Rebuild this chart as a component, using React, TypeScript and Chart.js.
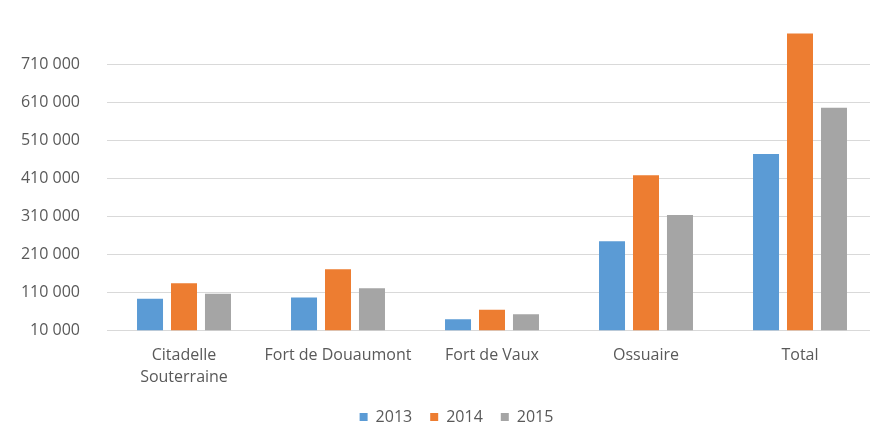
import React, { useEffect, useRef } from "react";
import { Chart, registerables } from "chart.js";

Chart.register(...registerables);

const categories: (string | string[])[] = [
  ["Citadelle", "Souterraine"],
  "Fort de Douaumont",
  "Fort de Vaux",
  "Ossuaire",
  "Total",
];
const values2013 = [93000, 96000, 39000, 245000, 475000];
const values2014 = [134000, 171000, 64000, 419000, 793000];
const values2015 = [106000, 121000, 52000, 314000, 597000];
const yTicks = [10000, 110000, 210000, 310000, 410000, 510000, 610000, 710000, 810000];
const shownTickMax = 710000;

const fmt = (v: number) =>
  String(v).replace(/\B(?=(\d{3})+(?!\d))/g, " ");

const legendShift = {
  id: "legendShift",
  afterLayout(chart: any) {
    if (chart.legend) chart.legend.left = 36;
  },
};

export default function App() {
  const ref = useRef<HTMLCanvasElement>(null);
  useEffect(() => {
    document.body.style.margin = "0";
    document.body.style.overflow = "hidden";
    const font = { family: "'Open Sans', sans-serif", size: 16 };
    const chart = new Chart(ref.current!, {
      type: "bar",
      data: {
        labels: categories,
        datasets: [
          { label: "2013", data: values2013, backgroundColor: "#5b9bd5" },
          { label: "2014", data: values2014, backgroundColor: "#ed7d31" },
          { label: "2015", data: values2015, backgroundColor: "#a5a5a5" },
        ],
      },
      plugins: [legendShift],
      options: {
        animation: false,
        responsive: false,
        maintainAspectRatio: false,
        layout: { padding: { top: 27, right: 35, left: 0, bottom: 2 } },
        datasets: {
          bar: { categoryPercentage: 0.662, barPercentage: 0.765 },
        },
        plugins: {
          tooltip: { enabled: false },
          legend: {
            position: "bottom",
            labels: {
              boxWidth: 8,
              boxHeight: 8,
              color: "#595959",
              font,
              padding: 18,
            },
          },
        },
        scales: {
          x: {
            grid: { display: false },
            border: { display: false },
            afterFit: (scale: any) => {
              scale.height = scale.height - 4;
            },
            ticks: { color: "#595959", font: { ...font, lineHeight: 1.4 }, padding: 6, maxRotation: 0, autoSkip: false },
          },
          y: {
            min: 10000,
            max: 810000,
            afterBuildTicks: (scale: any) => {
              scale.ticks = yTicks.map((v) => ({ value: v }));
            },
            afterFit: (scale: any) => {
              scale.width = 107;
            },
            border: { display: false },
            grid: {
              drawTicks: true,
              tickLength: 27,
              tickColor: "rgba(0,0,0,0)",
              color: (ctx: any) =>
                ctx.tick && ctx.tick.value > shownTickMax ? "rgba(0,0,0,0)" : "#d9d9d9",
              lineWidth: 1,
            },
            ticks: {
              color: "#595959",
              font,
              padding: 0,
              callback: (v: any) => (Number(v) > shownTickMax ? "" : fmt(Number(v))),
            },
          },
        },
      },
    });
    return () => chart.destroy();
  }, []);
  return (
    <div style={{ position: "relative", width: 870, height: 437, overflow: "hidden", background: "#fff" }}>
      <canvas ref={ref} width={912} height={437} style={{ position: "absolute", left: 0, top: 0, width: 912, height: 437 }} />
    </div>
  );
}
